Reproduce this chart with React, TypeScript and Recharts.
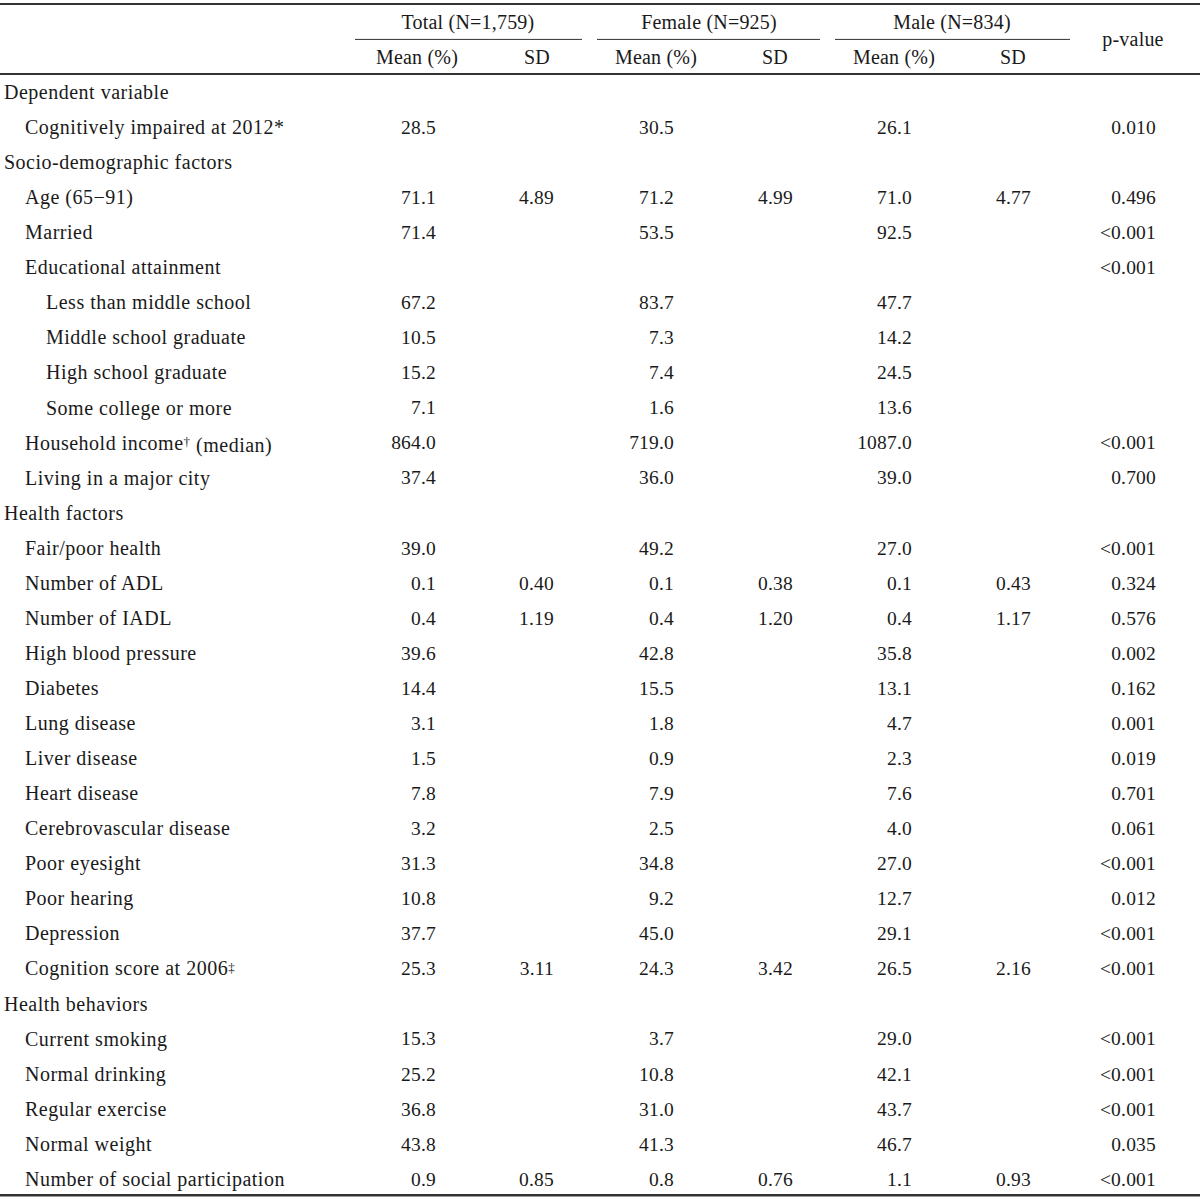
import React from 'react'
import { ScatterChart, Scatter, XAxis, YAxis, ReferenceLine } from 'recharts'

// row labels, indent level 0 = section heading
const rowLabels = [
  'Dependent variable',
  'Cognitively impaired at 2012*',
  'Socio-demographic factors',
  'Age (65\u221291)',
  'Married',
  'Educational attainment',
  'Less than middle school',
  'Middle school graduate',
  'High school graduate',
  'Some college or more',
  'Household income\u2020 (median)',
  'Living in a major city',
  'Health factors',
  'Fair/poor health',
  'Number of ADL',
  'Number of IADL',
  'High blood pressure',
  'Diabetes',
  'Lung disease',
  'Liver disease',
  'Heart disease',
  'Cerebrovascular disease',
  'Poor eyesight',
  'Poor hearing',
  'Depression',
  'Cognition score at 2006\u2021',
  'Health behaviors',
  'Current smoking',
  'Normal drinking',
  'Regular exercise',
  'Normal weight',
  'Number of social participation',
]
const rowLevels = [0, 1, 0, 1, 1, 1, 2, 2, 2, 2, 1, 1, 0, 1, 1, 1, 1, 1, 1, 1, 1, 1, 1, 1, 1, 1, 0, 1, 1, 1, 1, 1]

const N = null
const totalMean = [N, 28.5, N, 71.1, 71.4, N, 67.2, 10.5, 15.2, 7.1, 864.0, 37.4, N, 39.0, 0.1, 0.4, 39.6, 14.4, 3.1, 1.5, 7.8, 3.2, 31.3, 10.8, 37.7, 25.3, N, 15.3, 25.2, 36.8, 43.8, 0.9]
const totalSD = [N, N, N, 4.89, N, N, N, N, N, N, N, N, N, N, 0.40, 1.19, N, N, N, N, N, N, N, N, N, 3.11, N, N, N, N, N, 0.85]
const femaleMean = [N, 30.5, N, 71.2, 53.5, N, 83.7, 7.3, 7.4, 1.6, 719.0, 36.0, N, 49.2, 0.1, 0.4, 42.8, 15.5, 1.8, 0.9, 7.9, 2.5, 34.8, 9.2, 45.0, 24.3, N, 3.7, 10.8, 31.0, 41.3, 0.8]
const femaleSD = [N, N, N, 4.99, N, N, N, N, N, N, N, N, N, N, 0.38, 1.20, N, N, N, N, N, N, N, N, N, 3.42, N, N, N, N, N, 0.76]
const maleMean = [N, 26.1, N, 71.0, 92.5, N, 47.7, 14.2, 24.5, 13.6, 1087.0, 39.0, N, 27.0, 0.1, 0.4, 35.8, 13.1, 4.7, 2.3, 7.6, 4.0, 27.0, 12.7, 29.1, 26.5, N, 29.0, 42.1, 43.7, 46.7, 1.1]
const maleSD = [N, N, N, 4.77, N, N, N, N, N, N, N, N, N, N, 0.43, 1.17, N, N, N, N, N, N, N, N, N, 2.16, N, N, N, N, N, 0.93]
const pValues = [
  N, '0.010', N, '0.496', '<0.001', '<0.001', N, N, N, N, '<0.001', '0.700', N, '<0.001', '0.324', '0.576',
  '0.002', '0.162', '0.001', '0.019', '0.701', '0.061', '<0.001', '0.012', '<0.001', '<0.001', N,
  '<0.001', '<0.001', '<0.001', '0.035', '<0.001',
]

const groupHeaders = ['Total (N=1,759)', 'Female (N=925)', 'Male (N=834)']
const subHeaders = ['Mean (%)', 'SD', 'Mean (%)', 'SD', 'Mean (%)', 'SD']

// layout (pixels on the x scale, rows on the y scale)
const W = 1200
const H = 1202
const LABEL_X = [4, 25, 46]
const VALUE_X = [436, 554, 674, 793, 912, 1031, 1156]
const SUB_X = [417, 537, 656, 775, 894, 1013]
const GROUP_X = [468, 709, 952]
const GROUP_SPAN = [[355, 582], [597, 820], [835, 1070]]
const P_X = 1133
const ROW_TOP = -2.624
const ROW_BOTTOM = 31.66

const TEXT = '#1a1a1a'
const RULE = '#333'
const FONT = '"Liberation Serif", "Times New Roman", serif'

type Cell = { x: number; y: number; text: string; anchor: string; kind: string }

const fmt = (v: number | null, d: number) => (v === null ? null : v.toFixed(d))

const valueColumns: (string | null)[][] = [
  totalMean.map(v => fmt(v, 1)),
  totalSD.map(v => fmt(v, 2)),
  femaleMean.map(v => fmt(v, 1)),
  femaleSD.map(v => fmt(v, 2)),
  maleMean.map(v => fmt(v, 1)),
  maleSD.map(v => fmt(v, 2)),
  pValues,
]

const labelCells: Cell[] = rowLabels.map((t, i) => ({ x: LABEL_X[rowLevels[i]], y: i, text: t, anchor: 'start', kind: 'label' }))

const valueCells: Cell[] = valueColumns.flatMap((col, c) =>
  col.flatMap((t, r) => (t === null ? [] : [{ x: VALUE_X[c], y: r, text: t, anchor: 'end', kind: 'value' }]))
)

const headerCells: Cell[] = [
  ...groupHeaders.map((t, i) => ({ x: GROUP_X[i], y: -2, text: t, anchor: 'middle', kind: 'header' })),
  ...subHeaders.map((t, i) => ({ x: SUB_X[i], y: -1, text: t, anchor: 'middle', kind: 'header' })),
  { x: P_X, y: -1.5, text: 'p-value', anchor: 'middle', kind: 'header' },
]

const TEXT_STYLE: Record<string, { size: number; spacing: number }> = {
  label: { size: 20, spacing: 0.5 },
  header: { size: 20, spacing: 0.2 },
  value: { size: 19.5, spacing: 0.2 },
}

const renderText = (props: any) => {
  const { cx, cy, payload } = props
  const t: string = payload.text
  const st = TEXT_STYLE[payload.kind]
  const m = t.match(/^(.*?)([\u2020\u2021])(.*)$/)
  return (
    <text
      x={cx}
      y={cy}
      dy="0.35em"
      textAnchor={payload.anchor}
      fill={TEXT}
      fontSize={st.size}
      letterSpacing={st.spacing}
      fontFamily={FONT}
    >
      {m ? (
        <>
          {m[1]}
          <tspan fontSize={13} dy="-0.3em">{m[2]}</tspan>
          <tspan dy="0.3em">{m[3]}</tspan>
        </>
      ) : t}
    </text>
  )
}

const App = () => {
  return (
    <div style={{ position: 'absolute', left: 0, top: 0, width: W, height: H, background: '#fff' }}>
      <ScatterChart width={W} height={H} margin={{ top: 0, right: 0, bottom: 0, left: 0 }}>
        <XAxis type="number" dataKey="x" domain={[0, W]} hide />
        <YAxis type="number" dataKey="y" domain={[ROW_TOP, ROW_BOTTOM]} reversed hide allowDataOverflow />
        <ReferenceLine y={-2.51} stroke={RULE} strokeWidth={2} />
        <ReferenceLine y={-0.51} stroke={RULE} strokeWidth={2} />
        <ReferenceLine y={31.47} stroke={RULE} strokeWidth={2.5} />
        {GROUP_SPAN.map(([a, b], i) => (
          <ReferenceLine key={i} segment={[{ x: a, y: -1.5 }, { x: b, y: -1.5 }]} stroke={RULE} strokeWidth={1} />
        ))}
        <Scatter data={headerCells} shape={renderText} isAnimationActive={false} />
        <Scatter data={labelCells} shape={renderText} isAnimationActive={false} />
        <Scatter data={valueCells} shape={renderText} isAnimationActive={false} />
      </ScatterChart>
    </div>
  )
}

export default App
